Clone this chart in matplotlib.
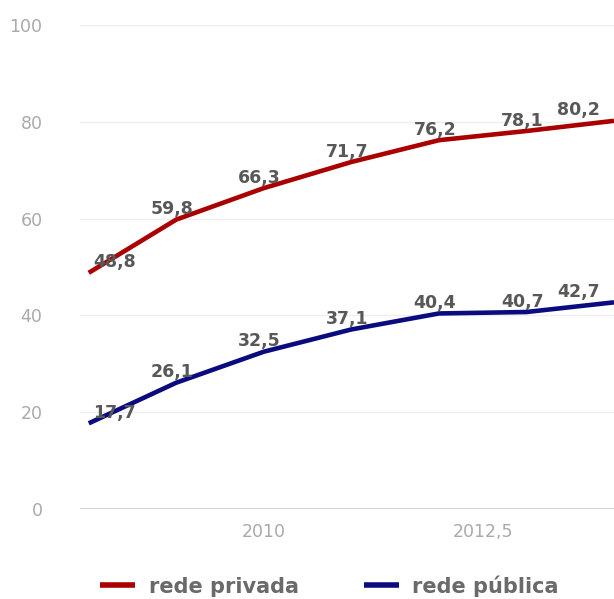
import matplotlib
matplotlib.use("Agg")
import matplotlib.pyplot as plt

# data
anos = [2008, 2009, 2010, 2011, 2012, 2013, 2014]
rede_privada = [48.8, 59.8, 66.3, 71.7, 76.2, 78.1, 80.2]
rede_publica = [17.7, 26.1, 32.5, 37.1, 40.4, 40.7, 42.7]
y_ticks = [0, 20, 40, 60, 80, 100]
x_ticks = [2010, 2012.5]

cor_privada = '#aa0000'
cor_publica = '#0b0b80'

plt.rcParams['font.family'] = ['DejaVu Sans']

fig = plt.figure(figsize=(6.14, 5.99), dpi=100)
ax = fig.add_axes([80 / 614, 90 / 599, 1 - 80 / 614, 484 / 599])

ax.plot(anos, rede_privada, color=cor_privada, lw=3.3, solid_capstyle='butt',
        label='rede privada', clip_on=False, zorder=3)
ax.plot(anos, rede_publica, color=cor_publica, lw=3.3, solid_capstyle='butt',
        label='rede pública', clip_on=False, zorder=3)

# value labels above each point
def rotular(valores):
    for i, (x, v) in enumerate(zip(anos, valores)):
        txt = f'{v:.1f}'.replace('.', ',')
        if i == 0:
            ha, dx = 'left', 3
        elif i == len(anos) - 1:
            ha, dx = 'right', -10
        else:
            ha, dx = 'center', -3
        ax.annotate(txt, (x, v), xytext=(dx, 7.5), textcoords='offset points',
                    ha=ha, va='center', fontsize=12.5, fontweight='bold',
                    color='#585858', zorder=4)

rotular(rede_privada)
rotular(rede_publica)

ax.set_xlim(2007.9, 2014.0)
ax.set_ylim(0, 100)
ax.set_yticks(y_ticks)
ax.set_xticks(x_ticks)
ax.set_xticklabels([str(t).replace('.', ',') for t in x_ticks])

ax.grid(axis='y', color='#eeeeee', lw=1)
ax.axhline(0, color='#cccccc', lw=1.2, zorder=2)
for s in ax.spines.values():
    s.set_visible(False)
ax.tick_params(length=0, labelsize=12.5, labelcolor='#aaaaaa')
ax.tick_params(axis='y', pad=27)
ax.tick_params(axis='x', pad=10)

leg = fig.legend(loc='center left', bbox_to_anchor=(100 / 614, 13 / 599),
                 ncol=2, frameon=False, borderpad=0, borderaxespad=0,
                 handlelength=1.7, handletextpad=0.65, columnspacing=3.1,
                 prop={'size': 15, 'weight': 'bold'})
for t in leg.get_texts():
    t.set_color('#6a6a6a')
for h in leg.get_lines():
    h.set_linewidth(4)

fig.savefig('out.png', dpi=100)
